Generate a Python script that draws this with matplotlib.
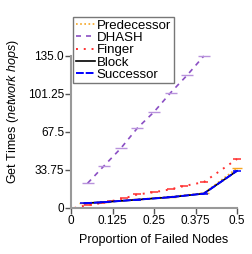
import matplotlib
matplotlib.use('Agg')
import matplotlib.pyplot as plt

plt.rcParams['font.family'] = ['Liberation Sans', 'DejaVu Sans']
plt.rcParams['mathtext.fontset'] = 'custom'
plt.rcParams['mathtext.rm'] = 'Liberation Sans'
plt.rcParams['mathtext.it'] = 'Liberation Sans:italic'

# data
dhash_x = [0.05, 0.1, 0.15, 0.2, 0.25, 0.3, 0.35, 0.4]
dhash_y = [22.0, 37.6, 53.0, 71.0, 85.3, 102.4, 118.0, 135.0]

finger_x = [0.01, 0.05, 0.09, 0.12, 0.16, 0.2, 0.25, 0.3, 0.34, 0.4, 0.5]
finger_y = [0.0, 2.7, 4.2, 6.0, 8.6, 12.0, 14.0, 16.6, 19.5, 23.0, 43.5]

node_x = [0.04, 0.1, 0.2, 0.3, 0.4, 0.5]
pred_y = [4.2, 5.3, 7.6, 10.0, 13.2, 35.2]
block_y = [4.2, 5.2, 7.4, 9.6, 12.8, 33.0]
succ_y = [4.2, 5.2, 7.4, 9.6, 12.8, 33.0]

xticks = [0, 0.125, 0.25, 0.375, 0.5]
xtick_labels = ['0', '0.125', '0.25', '0.375', '0.5']
yticks = [0, 33.75, 67.5, 101.25, 135.0]
ytick_labels = ['0', '33.75', '67.5', '101.25', '135.0']

W, H = 252, 254
fig = plt.figure(figsize=(W / 100, H / 100), dpi=100)
ax = fig.add_axes([71 / W, (H - 208) / H, 166 / W, 193 / H])

ax.plot(node_x, pred_y, color='#f5a623', linestyle=(0, (1, 1.5)), lw=1.2,
        marker='_', ms=7, mew=1.0, label='Predecessor', clip_on=False)
ax.plot(dhash_x, dhash_y, color='#8b4fc4', linestyle=(0, (3, 3)), lw=1.2,
        marker='_', ms=8, mew=1.0, mec='#b892dc', label='DHASH', clip_on=False)
ax.plot(finger_x, finger_y, color='#ff3030', linestyle=(0, (1, 3)), lw=1.4,
        marker='_', ms=6, mew=1.1, label='Finger', clip_on=False)
ax.plot(node_x, block_y, color='black', lw=1.2, label='Block', clip_on=False)
ax.plot(node_x, succ_y, color='#0000ff', linestyle=(0, (4, 1)), lw=1.4,
        marker='_', ms=6, mew=1.1, label='Successor', clip_on=False)

ax.set_xlim(0, 0.5)
ax.set_ylim(0, 193 / 152 * 135)
ax.set_xticks(xticks)
ax.set_xticklabels(xtick_labels)
ax.set_yticks(yticks)
ax.set_yticklabels(ytick_labels)

for s in ['top', 'right']:
    ax.spines[s].set_visible(False)
for s in ['left', 'bottom']:
    ax.spines[s].set_color('#999999')
    ax.spines[s].set_linewidth(1.5)
ax.spines['left'].set_bounds(0, 135)
ax.tick_params(direction='out', length=4, width=1, color='#555555',
               labelsize=8.5, pad=1)

ax.set_xlabel('Proportion of Failed Nodes', fontsize=9, labelpad=5)
ax.set_ylabel(r'Get Times $\it{(network\ hops)}$', fontsize=9, labelpad=5)

leg = ax.legend(loc='upper left', bbox_to_anchor=(73 / W, 1 - 17 / H),
                bbox_transform=fig.transFigure, fontsize=9.5, frameon=True,
                fancybox=False, handlelength=1.5, handletextpad=0.1,
                labelspacing=0.0, borderpad=0.2, borderaxespad=0)
leg.get_frame().set_edgecolor('#555555')
leg.get_frame().set_linewidth(1)
for h in leg.legend_handles:
    h.set_marker('')

fig.savefig('out.png', dpi=100)
